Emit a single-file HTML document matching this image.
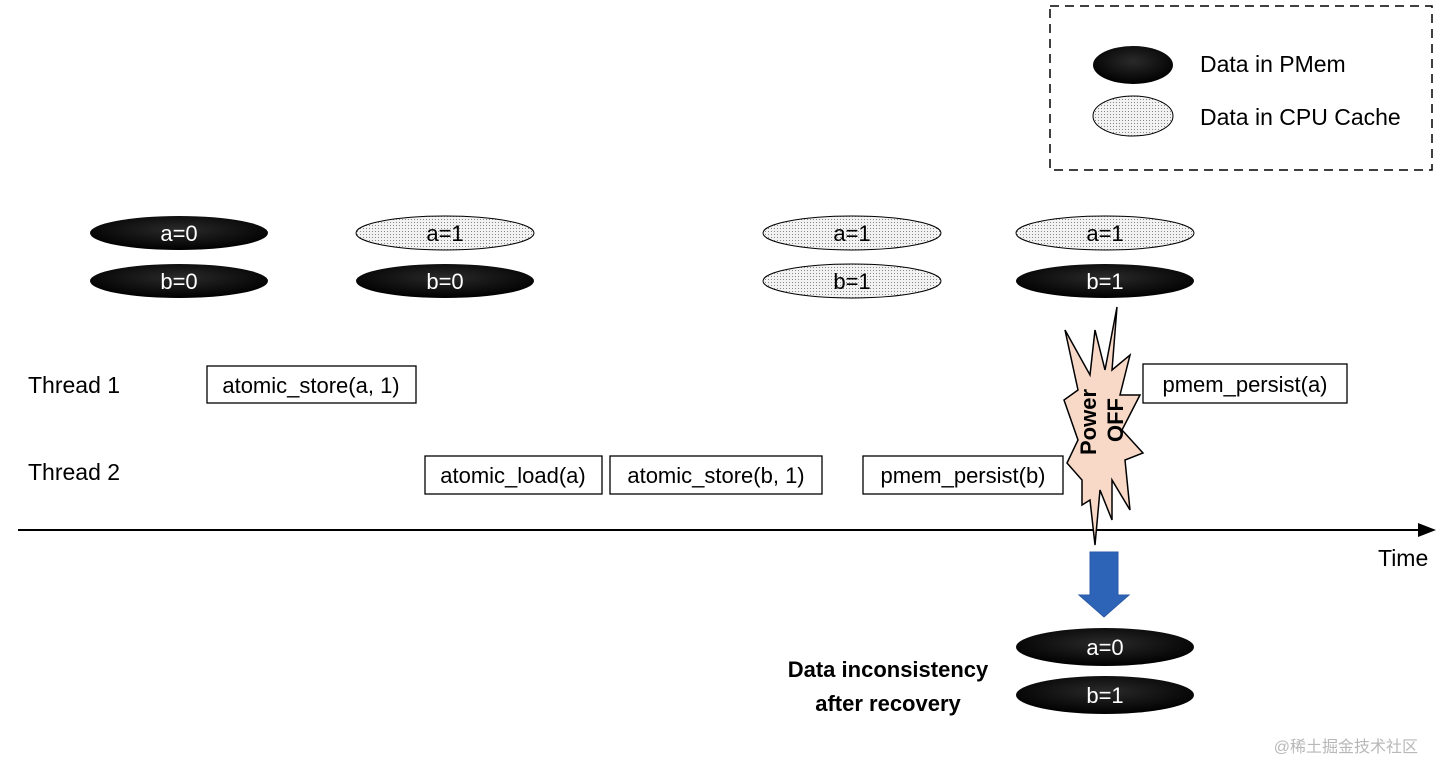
<!DOCTYPE html>
<html><head><meta charset="utf-8"><style>
body{margin:0;background:#fff;}
svg{display:block;font-family:"Liberation Sans",sans-serif;}
</style></head><body>
<svg width="1440" height="778" viewBox="0 0 1440 778" xmlns="http://www.w3.org/2000/svg">
<defs>
<pattern id="dots" width="3" height="3" patternUnits="userSpaceOnUse">
<rect width="3" height="3" fill="#f2f2f2"/><rect width="1" height="1" fill="#888"/>
</pattern>
<radialGradient id="blk" cx="50%" cy="40%" r="60%"><stop offset="0" stop-color="#2a2a2a"/><stop offset="1" stop-color="#000"/></radialGradient>
</defs>
<!-- legend -->
<rect x="1050" y="6" width="382" height="164" fill="none" stroke="#000" stroke-width="1.5" stroke-dasharray="9,6"/>
<ellipse cx="1133" cy="65" rx="40" ry="19" fill="url(#blk)"/>
<ellipse cx="1133" cy="116" rx="40" ry="20" fill="url(#dots)" stroke="#000" stroke-width="1"/>
<text x="1200" y="72" font-size="23">Data in PMem</text>
<text x="1200" y="125" font-size="23">Data in CPU Cache</text>

<!-- data ellipses -->
<g font-size="22" text-anchor="middle">
<ellipse cx="179" cy="233" rx="89" ry="17" fill="url(#blk)"/><text x="179" y="241" fill="#fff">a=0</text>
<ellipse cx="179" cy="281" rx="89" ry="17" fill="url(#blk)"/><text x="179" y="289" fill="#fff">b=0</text>
<ellipse cx="445" cy="233" rx="89" ry="17" fill="url(#dots)" stroke="#000"/><text x="445" y="241">a=1</text>
<ellipse cx="445" cy="281" rx="89" ry="17" fill="url(#blk)"/><text x="445" y="289" fill="#fff">b=0</text>
<ellipse cx="852" cy="233" rx="89" ry="17" fill="url(#dots)" stroke="#000"/><text x="852" y="241">a=1</text>
<ellipse cx="852" cy="281" rx="89" ry="17" fill="url(#dots)" stroke="#000"/><text x="852" y="289">b=1</text>
<ellipse cx="1105" cy="233" rx="89" ry="17" fill="url(#dots)" stroke="#000"/><text x="1105" y="241">a=1</text>
<ellipse cx="1105" cy="281" rx="89" ry="17" fill="url(#blk)"/><text x="1105" y="289" fill="#fff">b=1</text>
<ellipse cx="1105" cy="647" rx="89" ry="19" fill="url(#blk)"/><text x="1105" y="655" fill="#fff">a=0</text>
<ellipse cx="1105" cy="695" rx="89" ry="19" fill="url(#blk)"/><text x="1105" y="703" fill="#fff">b=1</text>
</g>

<!-- threads -->
<text x="28" y="393" font-size="23">Thread 1</text>
<text x="28" y="480" font-size="23">Thread 2</text>
<g fill="#fff" stroke="#000" stroke-width="1.3">
<rect x="207" y="366" width="209" height="37"/>
<rect x="425" y="456" width="177" height="38"/>
<rect x="610" y="456" width="212" height="38"/>
<rect x="863" y="456" width="200" height="38"/>
<rect x="1143" y="364" width="204" height="39"/>
</g>
<g font-size="22" text-anchor="middle">
<text x="311" y="393">atomic_store(a, 1)</text>
<text x="513" y="483">atomic_load(a)</text>
<text x="716" y="483">atomic_store(b, 1)</text>
<text x="963" y="483">pmem_persist(b)</text>
<text x="1245" y="392">pmem_persist(a)</text>
</g>

<!-- axis -->
<line x1="18" y1="530" x2="1422" y2="530" stroke="#000" stroke-width="2"/>
<polygon points="1436,530 1418,523 1418,537" fill="#000"/>
<text x="1378" y="566" font-size="23">Time</text>

<!-- explosion -->
<polygon points="1065,330 1090,375 1095,330 1105,370 1117,307 1112,370 1130,355 1120,395 1140,395 1122,430 1143,453 1125,460 1130,510 1112,480 1112,520 1100,490 1095,545 1090,500 1082,505 1082,480 1067,463 1078,440 1064,400 1078,390" fill="#f8d9c8" stroke="#000" stroke-width="1.5" stroke-linejoin="miter"/>
<g font-size="22" font-weight="bold">
<text transform="translate(1096,422) rotate(-90)" text-anchor="middle">Power</text>
<text transform="translate(1123,420) rotate(-90)" text-anchor="middle">OFF</text>
</g>

<!-- blue arrow -->
<polygon points="1090,552 1118,552 1118,595 1129,595 1104,617 1079,595 1090,595" fill="#2e64b8" stroke="#2a5aa6"/>

<text x="888" y="677" font-size="22" font-weight="bold" text-anchor="middle">Data inconsistency</text>
<text x="888" y="711" font-size="22" font-weight="bold" text-anchor="middle">after recovery</text>
<text x="1418" y="752" font-size="16" fill="#b8b8b8" text-anchor="end" style="font-family:'Liberation Sans','Noto Sans CJK SC',sans-serif">@稀土掘金技术社区</text>
</svg>
</body></html>
